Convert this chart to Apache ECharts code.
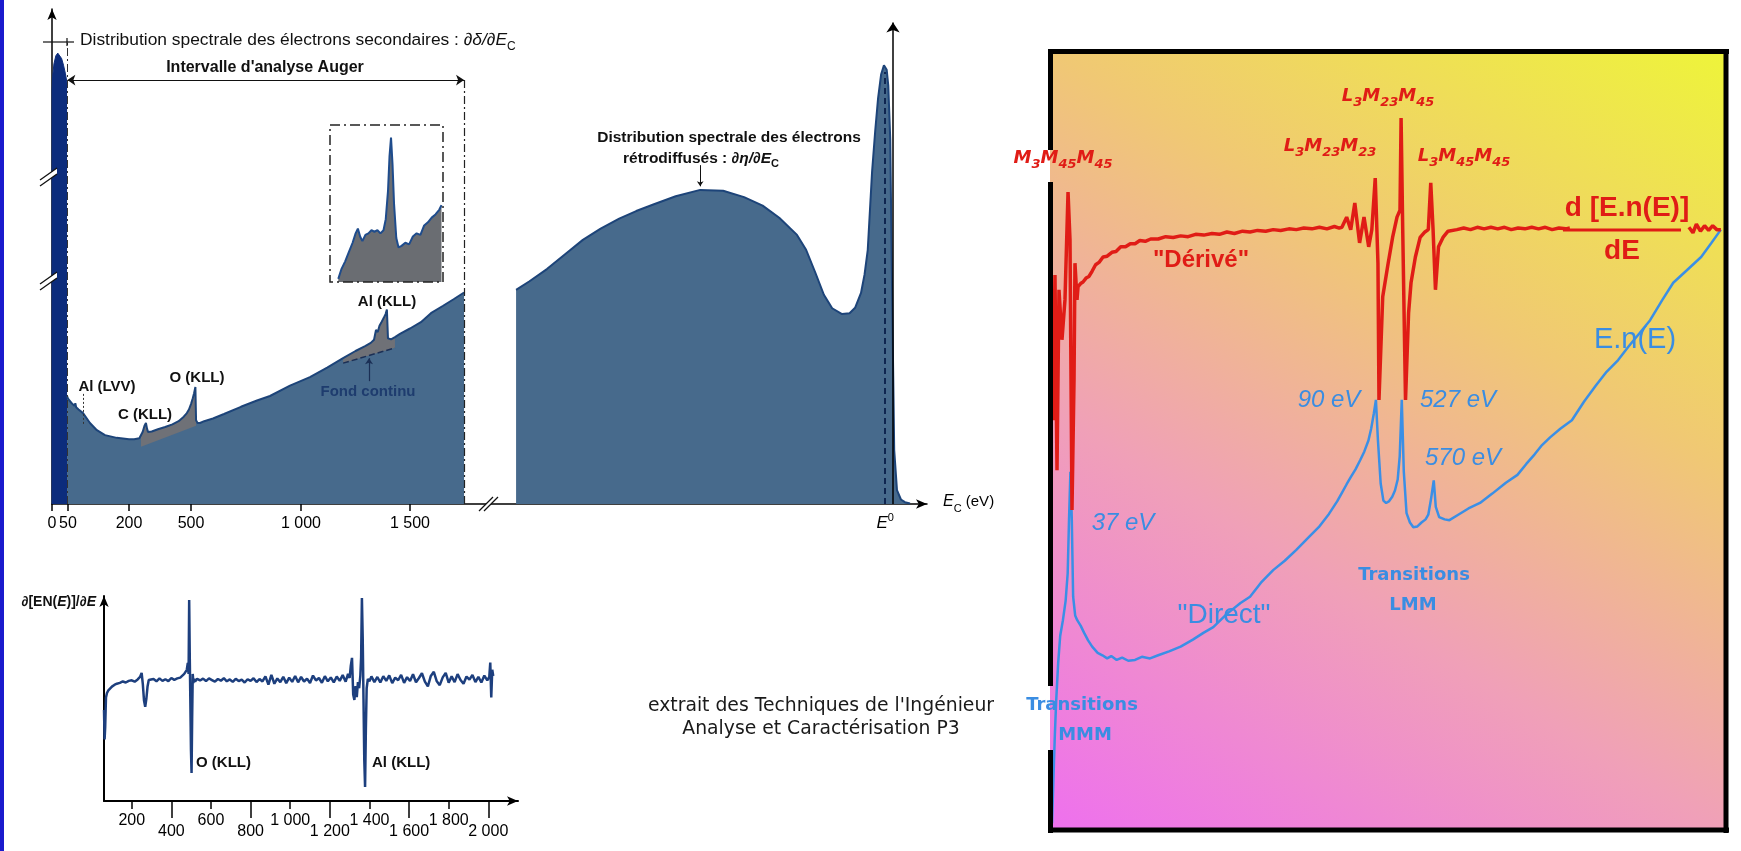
<!DOCTYPE html>
<html><head><meta charset="utf-8">
<script src="https://cdn.jsdelivr.net/npm/echarts@6/dist/echarts.min.js"></script>
<style>html,body{margin:0;padding:0;background:#fff}#c{width:1741px;height:851px}</style>
</head><body><div id="c"></div>
<script>
// ---------------- DATA ----------------
// Top-left panel: schematic (non-linear) energy axis of the figure
const TL_TICK_EV    = [0, 50, 200, 500, 1000, 1500];
const TL_TICK_LABEL = ['0', '50', '200', '500', '1 000', '1 500'];
const TL_TICK_AT    = [0, 16, 77, 139, 249, 358];   // relative spacing of those ticks along the drawn axis

// secondary electron peak [eV, intensity]
const SEC = [[0,0],[0.2,92],[2,95],[6,97.8],[12,99.6],[18,100.2],[24,100.1],[30,99],[36,97.5],[42,95.6],[47,93.5]];
// Auger range spectrum [eV, intensity]
const TL_E = [47,50,58,66,68,70,76,87,104,121,141,170,200,225,250,258,266,275,282,287,292,297,310,340,375,410,440,465,480,490,500,508,514,520,523,530,541,560,600,650,727,800,859,950,1041,1120,1193,1250,1294,1320,1335,1344,1352,1360,1367,1374,1382,1388,1394,1399,1406,1413,1431,1454,1500,1550,1596,1650,1700,1748];
const TL_I = [24.0,23.4,22.5,21.8,22.4,21.5,21.0,20.2,18.0,16.4,15.3,14.7,14.4,14.4,14.6,14.8,16.0,17.4,18.0,16.8,16.0,15.9,16.1,16.6,17.1,17.7,18.4,19.4,20.2,21.0,22.2,23.5,24.6,26.0,18.6,18.0,18.0,18.4,19.0,20.0,21.6,23.0,24.0,26.3,28.2,30.3,32.4,34.0,35.1,35.8,36.5,38.7,38.2,39.6,40.2,40.5,41.6,42.2,43.2,36.8,36.5,36.6,37.1,37.8,39.0,40.4,42.4,44.0,45.5,47.0];
// continuous background under the C/O and Al Auger peaks [eV, intensity]
const CO_BASE = [[258,12.7],[523,17.4]];
const AL_BASE = [[1193,31.3],[1431,34.7]];
// magnified Al (KLL) inset [eV, intensity]
const INSET = [[1321,2],[1325,8],[1330,13],[1335,19],[1340,25],[1344,31],[1347,34],[1350,29],[1353,26],[1357,30],[1361,31],[1365,33],[1369,32],[1373,33],[1377,31],[1381,33],[1384,40],[1387,58],[1389,80],[1391,92],[1393,75],[1395,50],[1398,28],[1401,22],[1405,23],[1410,25],[1415,24],[1420,29],[1425,31],[1430,30],[1435,36],[1440,38],[1445,41],[1450,43],[1455,46],[1458,49]];
// backscattered electrons [E/E0, intensity]
const BS = [[0.066,47.6],[0.10,49.5],[0.144,52.2],[0.19,55.5],[0.235,58.7],[0.28,61.2],[0.327,63.4],[0.37,65.1],[0.415,66.6],[0.47,68.4],[0.532,69.8],[0.59,69.6],[0.643,68.2],[0.69,66.3],[0.732,63.6],[0.777,59.8],[0.80,56.5],[0.823,51.5],[0.845,46.5],[0.866,43.5],[0.891,42.2],[0.91,42.4],[0.924,43.6],[0.939,46.9],[0.948,51.0],[0.956,56.4],[0.967,73.8],[0.975,83.0],[0.982,90.0],[0.99,95.5],[0.997,97.5],[1.004,96.5],[1.008,93.0],[1.013,81.0],[1.018,45.0],[1.023,12.0],[1.030,3.1],[1.040,1.0],[1.050,0.4],[1.063,0.1]];
// derivative spectrum (bottom-left) [eV, dEN/dE]
const DER = [[60,44.4],[63,30],[66,36],[70,50.5],[75,52.7],[82,54],[90,54.5],[100,55.8],[112,56.6],[125,57.2],[140,57.6],[155,58.3],[170,57.8],[185,58.6],[200,58.9],[215,58.2],[230,59.3],[242,60.5],[250,62.5],[256,57],[262,49],[268,46],[274,50],[280,56],[286,59],[295,58.2],[310,59.5],[325,58.4],[340,59.8],[355,58.6],[370,59.4],[385,58.5],[400,60.0],[415,59.1],[430,59.8],[445,60.2],[455,61],[465,62],[472,61.3],[478,64],[483,67.3],[487,62],[490,98],[493,70],[496,48],[499,25],[502,13.7],[505,40],[508,62],[511,57.5],[515,59.5],[520,58.3],[530,59.6],[545,58.8],[560,59.7],[575,58.5],[590,59.8],[605,59.0],[620,58.2],[635,59.5],[650,58.7],[665,59.9],[680,58.4],[695,59.3],[710,58.1],[725,59.6],[740,58.5],[755,59.2],[770,57.8],[785,59.4],[800,58.6],[815,59.9],[830,58.0],[845,59.5],[860,58.3],[875,60.8],[890,56.8],[905,61.5],[920,57.2],[935,59.8],[950,58.0],[965,60.6],[980,57.5],[995,60.2],[1010,58.1],[1025,61.0],[1040,57.9],[1055,60.5],[1070,58.3],[1085,59.7],[1100,57.6],[1115,61.2],[1130,58.8],[1145,60.0],[1160,57.7],[1175,60.9],[1190,58.4],[1205,60.3],[1220,57.9],[1235,60.7],[1250,58.6],[1265,61.4],[1280,58.2],[1292,62],[1300,60],[1306,66],[1312,69.8],[1318,52],[1324,49.3],[1330,56],[1336,50.7],[1342,58],[1348,55],[1354,61],[1358,70],[1362,99],[1366,80],[1370,50],[1374,20],[1378,6.8],[1382,35],[1386,55],[1392,59.6],[1400,58.4],[1410,60.8],[1425,58.0],[1440,60.5],[1455,57.8],[1470,60.9],[1485,58.6],[1500,61.3],[1515,57.5],[1530,60.2],[1545,58.9],[1560,61.5],[1575,57.6],[1590,60.4],[1605,58.5],[1620,61.8],[1635,57.9],[1650,60.0],[1665,62.3],[1680,58.2],[1695,55.9],[1710,61.0],[1725,63.0],[1740,58.4],[1755,56.5],[1770,60.3],[1785,62.5],[1800,57.7],[1815,60.8],[1830,58.0],[1845,61.9],[1860,59.0],[1875,57.2],[1890,60.7],[1905,59.2],[1920,61.5],[1935,58.0],[1950,60.6],[1965,57.8],[1980,61.2],[1995,58.8],[2005,60.5],[2010,67.5],[2015,50.5],[2020,64],[2025,61]];
const BL_TICKS_UP   = [200, 600, 1000, 1400, 1800];
const BL_TICKS_DOWN = [400, 800, 1200, 1600, 2000];
// right panel: "Dérivé" d[E.n(E)]/dE (red) and "Direct" E.n(E) (blue) [eV, intensity]
const RED = [[11.5,68.0],[14.4,52.6],[17.3,71.2],[20.3,46.2],[23.2,69.3],[27.6,62.9],[32,68.0],[36.5,81.8],[39.4,75.7],[42.3,41.1],[45.3,57.7],[46.7,72.7],[49.7,68.0],[51.2,69.7],[55,70.1],[58.5,70.3],[63,70.8],[67.3,71.0],[72,71.7],[77,72.5],[82,72.8],[88,73.5],[94,73.6],[101,74.1],[107,74.2],[114,74.8],[121,74.8],[128,75.2],[135,75.2],[142,75.6],[150,75.5],[158,75.8],[169,75.8],[180,76.1],[191,76.0],[202,76.2],[213,76.1],[224,76.4],[236,76.3],[248,76.5],[259,76.4],[270,76.7],[281,76.5],[293,76.8],[304,76.7],[315,76.9],[327,76.8],[338,77.0],[349,76.9],[361,77.1],[372,77.0],[383,77.2],[395,77.1],[406,77.3],[417,77.1],[428,77.4],[435,77.2],[439,77.3],[446,78.6],[452,77.0],[458,80.4],[465,75.3],[471.5,78.6],[478.4,74.8],[483,77.0],[488,83.6],[492,72.7],[493.5,55.2],[499,68.4],[507,72.7],[513.5,76.0],[520,78.6],[524.4,79.5],[526,91.3],[528.4,77.0],[532.5,55.2],[537,66.3],[540.6,70.2],[547,73.5],[554,76.0],[561,76.7],[566,77.0],[569.6,83.0],[573,77.0],[576.5,69.3],[581,74.8],[587.6,76.0],[595,76.8],[608,77.0],[618,77.2],[628,77.0],[638,77.3],[648,77.1],[658,77.3],[668,77.1],[678,77.3],[688,77.0],[698,77.2],[708,77.1],[718,77.3],[728,77.1],[738,77.3],[748,77.0],[758,77.2],[768,77.1],[774,77.2],[776,'-'],[949,77.3],[955,76.6],[960,77.7],[966,76.8],[972,77.5],[978,76.9],[984,77.5],[990,77.0],[996,77.0]];
const BLUE = [[13,1.0],[15,6.5],[17,12.0],[19,16.5],[22,21.5],[25,25.0],[29,27.0],[33,29.5],[36,33.0],[38,40.0],[40,46.0],[42,40.0],[44,30.0],[47,27.6],[50,27.0],[55,26.3],[60,25.4],[66,24.4],[72,23.6],[80,22.8],[87,22.5],[94,22.1],[100,22.4],[108,21.9],[116,22.2],[125,21.8],[135,21.9],[145,22.3],[157,22.1],[169,22.5],[185,23.0],[202,23.6],[220,24.5],[236,25.4],[250,26.1],[270,27.8],[290,29.2],[304,30.0],[320,31.8],[338,33.4],[355,34.6],[372,36.0],[390,37.6],[405,38.9],[420,40.6],[432,42.2],[439,43.3],[446,44.4],[452,45.3],[459,46.3],[466,47.5],[472,48.6],[478,50.0],[482,51.5],[486,53.5],[489,55.2],[492,50.0],[496,44.5],[500,42.3],[504,42.0],[508,42.2],[513,42.8],[517,43.6],[521,45.0],[524,48.0],[527,55.2],[530,46.0],[534,40.7],[539,39.5],[544,38.9],[550,39.0],[556,39.5],[562,39.9],[566,40.5],[570,42.5],[574,44.9],[577,41.5],[582,40.2],[590,39.9],[597,39.8],[610,40.5],[625,41.3],[642,42.0],[660,43.2],[680,44.6],[697,45.6],[710,47.0],[722,48.2],[732,49.3],[745,50.4],[760,51.5],[777,52.6],[795,55.0],[812,57.0],[828,58.8],[845,60.3],[860,62.0],[877,63.8],[892,65.4],[910,68.0],[926,70.2],[946,71.8],[967,73.5],[982,75.3],[996,77.0]];

// ---------------- HELPERS ----------------
function tlScale(e) {
  const n = TL_TICK_EV.length;
  for (let k = 0; k < n - 1; k++) {
    if (e <= TL_TICK_EV[k + 1]) {
      const t = (e - TL_TICK_EV[k]) / (TL_TICK_EV[k + 1] - TL_TICK_EV[k]);
      return TL_TICK_AT[k] + t * (TL_TICK_AT[k + 1] - TL_TICK_AT[k]);
    }
  }
  const k = n - 2;
  return TL_TICK_AT[n - 1] + (e - TL_TICK_EV[n - 1]) * (TL_TICK_AT[n - 1] - TL_TICK_AT[k]) / (TL_TICK_EV[n - 1] - TL_TICK_EV[k]);
}
const tl = pts => pts.map(p => [tlScale(p[0]), p[1]]);
const TL = TL_E.map((e, i) => [e, TL_I[i]]);
const nearest = (arr, v) => { let b = 0; arr.forEach((a, i) => { if (Math.abs(a - v) < Math.abs(arr[b] - v)) b = i; }); return b; };
const thousands = v => v >= 1000 ? Math.floor(v / 1000) + ' ' + String(v % 1000).padStart(3, '0') : String(v);

const FF = 'Liberation Sans, Arial, Helvetica, sans-serif';
const DJ = 'DejaVu Sans, Verdana, sans-serif';
const C_FILL = '#476a8c', C_LINE = '#1d4479', C_NAVY = '#0c2c7c', C_GRAY = '#6f7177';
const RED_C = '#e01c16', BLUE_C = '#3a8fe6', BLUE_T = '#3a8de2';

function polygonSeries(xi, yi, pts, color, z) {
  return { type: 'custom', xAxisIndex: xi, yAxisIndex: yi, z, silent: true, clip: false, animation: false,
    data: pts,
    renderItem: (params, api) => params.dataIndex === 0 ? {
      type: 'polygon', shape: { points: pts.map(p => api.coord(p)) }, style: { fill: color } } : null };
}
const coPoly = tl(TL.filter(p => p[0] >= CO_BASE[0][0] && p[0] <= CO_BASE[1][0]).concat([CO_BASE[1], CO_BASE[0]]));
const alPoly = tl(TL.filter(p => p[0] >= AL_BASE[0][0] && p[0] <= AL_BASE[1][0]).concat([AL_BASE[1], AL_BASE[0]]));

function T(x, y, text, o = {}) {
  const al = o.align || 'center';
  const st = { text, fill: o.color || '#111', fontSize: o.size || 15, fontWeight: o.weight || 'normal',
    fontStyle: o.style || 'normal', fontFamily: o.family || FF,
    align: al, verticalAlign: 'middle', textAlign: al, textVerticalAlign: 'middle' };
  if (o.rich) st.rich = o.rich;
  return { type: 'text', x, y, z: 30, silent: true, style: st };
}
function tok(size, color, extra) { return Object.assign({ fontSize: size, fill: color, color, fontFamily: FF }, extra || {}); }
const subRich = (size, color, fam, weight, style) => ({
  n: tok(size, color, { fontFamily: fam, fontWeight: weight, fontStyle: style, lineHeight: size + 4, verticalAlign: 'top' }),
  i: tok(size, color, { fontFamily: fam, fontWeight: weight, fontStyle: 'italic', lineHeight: size + 4, verticalAlign: 'top' }),
  s: tok(Math.round(size * 0.7), color, { fontFamily: fam, fontWeight: weight, fontStyle: style, lineHeight: Math.round(size * 0.7), verticalAlign: 'bottom' })
});
const redRich = subRich(18, RED_C, DJ, 'bold', 'italic');

function brk(x1, y1, x2, y2, ox, oy) {
  return [
    { type: 'polygon', z: 25, silent: true, shape: { points: [[x1, y1], [x2, y2], [x2 + ox, y2 + oy], [x1 + ox, y1 + oy]] }, style: { fill: '#fff' } },
    { type: 'line', z: 26, silent: true, shape: { x1, y1, x2, y2 }, style: { stroke: '#111', lineWidth: 1.3 } },
    { type: 'line', z: 26, silent: true, shape: { x1: x1 + ox, y1: y1 + oy, x2: x2 + ox, y2: y2 + oy }, style: { stroke: '#111', lineWidth: 1.3 } }
  ];
}

const RP = { x: 1050, y: 52, w: 676, h: 778 };
const graphics = [
  { type: 'rect', z: 40, silent: true, shape: { x: 0, y: 0, width: 4, height: 851 }, style: { fill: '#1a1acd' } },
  { type: 'rect', z: 0, silent: true, shape: { x: RP.x, y: RP.y, width: RP.w, height: RP.h },
    style: { fill: new echarts.graphic.LinearGradient(0, 1, 0.796, -0.11, [
      { offset: 0, color: '#ee70ee' }, { offset: 0.35, color: '#f0a0b8' }, { offset: 0.5, color: '#f0b496' },
      { offset: 0.65, color: '#f0c874' }, { offset: 1, color: '#eef43a' }]) } },
  { type: 'line', z: 20, silent: true, shape: { x1: 1048, y1: 51.5, x2: 1729, y2: 51.5 }, style: { stroke: '#000', lineWidth: 5 } },
  { type: 'line', z: 20, silent: true, shape: { x1: 1726, y1: 49, x2: 1726, y2: 833 }, style: { stroke: '#000', lineWidth: 5 } },
  { type: 'line', z: 20, silent: true, shape: { x1: 1048, y1: 830, x2: 1729, y2: 830 }, style: { stroke: '#000', lineWidth: 5 } },
  { type: 'line', z: 20, silent: true, shape: { x1: 1050.5, y1: 49, x2: 1050.5, y2: 150 }, style: { stroke: '#000', lineWidth: 5 } },
  { type: 'line', z: 20, silent: true, shape: { x1: 1050.5, y1: 182, x2: 1050.5, y2: 686 }, style: { stroke: '#000', lineWidth: 5 } },
  { type: 'line', z: 20, silent: true, shape: { x1: 1050.5, y1: 750, x2: 1050.5, y2: 833 }, style: { stroke: '#000', lineWidth: 5 } },
  // inset frame
  { type: 'rect', z: 20, silent: true, shape: { x: 330, y: 125, width: 113, height: 157 }, style: { fill: 'none', stroke: '#222', lineWidth: 1.5, lineDash: [10, 4, 2, 4] } },
  // pointer of the first title
  { type: 'line', z: 20, silent: true, shape: { x1: 43, y1: 42, x2: 74, y2: 42 }, style: { stroke: '#111', lineWidth: 1.2 } },
  { type: 'line', z: 20, silent: true, shape: { x1: 67, y1: 38, x2: 67, y2: 46 }, style: { stroke: '#111', lineWidth: 1.2 } },
  ...brk(40, 180, 57, 168, 0, 6), ...brk(40, 284, 57, 272, 0, 6), ...brk(479, 511, 493, 497, 5, 0),
  // texts top-left
  T(80, 42, '{n|Distribution spectrale des électrons secondaires : }{i|∂δ/∂E}{s|C}', { align: 'left', rich: subRich(17.4, '#111', FF, 'normal', 'normal') }),
  T(265, 68, "Intervalle d'analyse Auger", { size: 16, weight: 'bold' }),
  T(107, 387, 'Al (LVV)', { weight: 'bold' }),
  T(145, 415, 'C (KLL)', { weight: 'bold' }),
  T(197, 378, 'O (KLL)', { weight: 'bold' }),
  T(387, 302, 'Al (KLL)', { weight: 'bold' }),
  T(368, 392, 'Fond continu', { weight: 'bold', color: '#1e3c6e' }),
  T(729, 138, 'Distribution spectrale des électrons', { weight: 'bold', size: 15.5 }),
  T(701, 160, '{n|rétrodiffusés : }{i|∂η/∂E}{s|C}', { rich: subRich(15.5, '#111', FF, 'bold', 'normal') }),
  // bottom-left
  T(196, 763, 'O (KLL)', { align: 'left', weight: 'bold' }),
  T(372, 763, 'Al (KLL)', { align: 'left', weight: 'bold' }),
  // middle
  T(821, 706, "extrait des Techniques de l'Ingénieur", { family: DJ, size: 18.8, color: '#1a1a1a' }),
  T(821, 729, 'Analyse et Caractérisation P3', { family: DJ, size: 18.8, color: '#1a1a1a' }),
  // right panel
  T(1063, 160, '{n|M}{s|3}{n|M}{s|45}{n|M}{s|45}', { rich: redRich }),
  T(1330, 148, '{n|L}{s|3}{n|M}{s|23}{n|M}{s|23}', { rich: redRich }),
  T(1388, 98, '{n|L}{s|3}{n|M}{s|23}{n|M}{s|45}', { rich: redRich }),
  T(1464, 158, '{n|L}{s|3}{n|M}{s|45}{n|M}{s|45}', { rich: redRich }),
  T(1201, 260, '"Dérivé"', { size: 24, weight: 'bold', color: RED_C }),
  T(1627, 208, 'd [E.n(E)]', { size: 28, weight: 'bold', color: RED_C }),
  { type: 'line', z: 30, silent: true, shape: { x1: 1563, y1: 230, x2: 1681, y2: 230 }, style: { stroke: RED_C, lineWidth: 3 } },
  T(1622, 251, 'dE', { size: 28, weight: 'bold', color: RED_C }),
  T(1635, 340, 'E.n(E)', { size: 29, color: BLUE_T }),
  T(1329, 400, '90 eV', { size: 24, style: 'italic', color: BLUE_T }),
  T(1458, 400, '527 eV', { size: 24, style: 'italic', color: BLUE_T }),
  T(1463, 458, '570 eV', { size: 24, style: 'italic', color: BLUE_T }),
  T(1123, 523, '37 eV', { size: 24, style: 'italic', color: BLUE_T }),
  T(1224, 615, '"Direct"', { size: 28, color: BLUE_T }),
  T(1414, 575, 'Transitions', { size: 18, weight: 'bold', family: DJ, color: BLUE_T }),
  T(1413, 605, 'LMM', { size: 18, weight: 'bold', family: DJ, color: BLUE_T }),
  T(1082, 705, 'Transitions', { size: 18, weight: 'bold', family: DJ, color: BLUE_T }),
  T(1085, 735, 'MMM', { size: 18, weight: 'bold', family: DJ, color: BLUE_T })
];

const hiddenAxis = (gi, min, max) => ({ gridIndex: gi, type: 'value', min, max, show: false });
const axisBlack = { color: '#000', width: 1.5 };

const option = {
  animation: false,
  backgroundColor: '#fff',
  textStyle: { fontFamily: FF },
  grid: [
    { left: 52, top: 9, width: 438, height: 495, outerBoundsMode: 'none', containLabel: false },
    { left: 490, top: 9, width: 437, height: 495, outerBoundsMode: 'none', containLabel: false },
    { left: 330, top: 125, width: 113, height: 157, outerBoundsMode: 'none', containLabel: false },
    { left: 104, top: 596, width: 414, height: 205, outerBoundsMode: 'none', containLabel: false },
    { left: 1050, top: 50, width: 677, height: 781, outerBoundsMode: 'none', containLabel: false }
  ],
  xAxis: [
    { gridIndex: 0, type: 'value', position: 'bottom', min: 0, max: 438, splitLine: { show: false },
      axisLine: { show: true, onZero: false, lineStyle: axisBlack },
      axisTick: { show: true, customValues: TL_TICK_AT, length: 7, lineStyle: axisBlack },
      axisLabel: { show: true, customValues: TL_TICK_AT, margin: 12, fontSize: 16, color: '#000',
        formatter: v => TL_TICK_LABEL[nearest(TL_TICK_AT, v)] } },
    { gridIndex: 1, type: 'value', position: 'bottom', min: 0, max: 1.106, splitLine: { show: false },
      axisLine: { show: true, onZero: false, lineStyle: axisBlack, symbol: ['none', 'arrow'], symbolSize: [7, 11] },
      axisTick: { show: false },
      axisLabel: { show: true, customValues: [1], margin: 8, formatter: () => '{e|E}{s|0}',
        rich: { e: { fontSize: 17, fontStyle: 'italic', color: '#000', lineHeight: 20, verticalAlign: 'bottom' },
                s: { fontSize: 11, color: '#000', lineHeight: 11, verticalAlign: 'top' } } },
      name: '{e|E}{s|C}{n| (eV)}', nameLocation: 'end', nameGap: 16, nameMoveOverlap: false,
      nameTextStyle: { align: 'left', verticalAlign: 'middle',
        rich: { e: { fontSize: 16, fontStyle: 'italic', color: '#000', lineHeight: 20, verticalAlign: 'top' },
                s: { fontSize: 11, color: '#000', lineHeight: 11, verticalAlign: 'bottom' },
                n: { fontSize: 15, color: '#000', lineHeight: 20, verticalAlign: 'top' } } } },
    hiddenAxis(2, 1310, 1460),
    { gridIndex: 3, type: 'value', position: 'bottom', offset: 0, min: 60, max: 2150, splitLine: { show: false },
      axisLine: { show: true, onZero: false, lineStyle: { color: '#000', width: 2 }, symbol: ['none', 'arrow'], symbolSize: [7, 11] },
      axisTick: { show: true, customValues: BL_TICKS_UP, length: 8, lineStyle: axisBlack },
      axisLabel: { show: true, customValues: BL_TICKS_UP, margin: 12, fontSize: 16, color: '#000', formatter: thousands } },
    { gridIndex: 3, type: 'value', position: 'bottom', offset: 0, min: 60, max: 2150, splitLine: { show: false },
      axisLine: { show: false, onZero: false },
      axisTick: { show: true, customValues: BL_TICKS_DOWN, length: 17, lineStyle: axisBlack },
      axisLabel: { show: true, customValues: BL_TICKS_DOWN, margin: 23, fontSize: 16, color: '#000', formatter: thousands } },
    hiddenAxis(4, 10, 1005)
  ],
  yAxis: [
    { gridIndex: 0, type: 'value', min: 0, max: 110, splitLine: { show: false }, axisTick: { show: false }, axisLabel: { show: false },
      axisLine: { show: true, onZero: false, lineStyle: axisBlack, symbol: ['none', 'arrow'], symbolSize: [7, 11] } },
    hiddenAxis(1, 0, 110),
    hiddenAxis(2, 0, 100),
    { gridIndex: 3, type: 'value', min: 0, max: 100, splitLine: { show: false }, axisTick: { show: false }, axisLabel: { show: false },
      axisLine: { show: true, onZero: false, lineStyle: { color: '#000', width: 2 }, symbol: ['none', 'arrow'], symbolSize: [7, 11] },
      name: '{a|∂[EN(}{i|E}{a|)]/∂}{i|E}', nameLocation: 'end', nameGap: -6, nameMoveOverlap: false,
      nameTextStyle: { align: 'right', verticalAlign: 'middle', padding: [0, 8, 0, 0],
        rich: { a: { fontSize: 14, fontWeight: 'bold', color: '#111' }, i: { fontSize: 14, fontWeight: 'bold', fontStyle: 'italic', color: '#111' } } } },
    hiddenAxis(4, 0, 100)
  ],
  series: [
    { type: 'line', xAxisIndex: 0, yAxisIndex: 0, data: tl(SEC), symbol: 'none', z: 2, clip: false,
      lineStyle: { color: C_NAVY, width: 1 }, areaStyle: { color: C_NAVY, opacity: 1 } },
    { type: 'line', xAxisIndex: 0, yAxisIndex: 0, data: tl(TL), symbol: 'none', z: 2, clip: false,
      lineStyle: { width: 0 }, areaStyle: { color: C_FILL, opacity: 1 } },
    polygonSeries(0, 0, coPoly, C_GRAY, 3),
    polygonSeries(0, 0, alPoly, C_GRAY, 3),
    { type: 'line', xAxisIndex: 0, yAxisIndex: 0, data: tl(TL), symbol: 'none', z: 4, clip: false,
      lineStyle: { color: C_LINE, width: 2 },
      markLine: { silent: true, symbol: ['none', 'none'], label: { show: false }, animation: false,
        lineStyle: { color: '#111', width: 1.2, type: 'solid' },
        data: [
          [{ coord: [tlScale(48), 94.2], symbol: 'arrow', symbolSize: 8 }, { coord: [tlScale(1748), 94.2], symbol: 'arrow', symbolSize: 8 }],
          [{ coord: [tlScale(1748), 0], lineStyle: { type: [8, 3, 2, 3], color: '#222', width: 1.2 } }, { coord: [tlScale(1748), 94.2], lineStyle: { type: [8, 3, 2, 3], color: '#222', width: 1.2 } }],
          [{ coord: [tlScale(47), 0], lineStyle: { type: [8, 3, 2, 3], color: '#333', width: 1 } }, { coord: [tlScale(47), 103], lineStyle: { type: [8, 3, 2, 3], color: '#333', width: 1 } }],
          [{ coord: [tlScale(87), 17.8], lineStyle: { type: [2, 2], color: '#333', width: 1 } }, { coord: [tlScale(87), 24.5], lineStyle: { type: [2, 2], color: '#333', width: 1 } }]
        ] } },
    { type: 'line', xAxisIndex: 0, yAxisIndex: 0, data: tl(AL_BASE), symbol: 'none', z: 4, clip: false,
      lineStyle: { color: '#1b2f55', width: 1.5, type: 'dashed' },
      markLine: { silent: true, symbol: ['none', 'arrow'], symbolSize: 6, label: { show: false }, animation: false,
        lineStyle: { color: '#1b2f55', width: 1.2, type: 'solid' },
        data: [[{ coord: [tlScale(1312), 27.3] }, { coord: [tlScale(1312), 32.4] }]] } },
    { type: 'line', xAxisIndex: 2, yAxisIndex: 2, data: INSET, symbol: 'none', z: 4,
      lineStyle: { color: '#1f4c8c', width: 2 }, areaStyle: { color: '#6a6d72', opacity: 1 } },
    { type: 'line', xAxisIndex: 1, yAxisIndex: 1, data: BS, symbol: 'none', z: 3, clip: false,
      lineStyle: { color: C_LINE, width: 2 }, areaStyle: { color: C_FILL, opacity: 1 },
      markLine: { silent: true, symbol: ['none', 'none'], label: { show: false }, animation: false,
        data: [
          [{ coord: [1, 0], lineStyle: { type: [6, 4], color: '#0f2550', width: 2 } }, { coord: [1, 96], lineStyle: { type: [6, 4], color: '#0f2550', width: 2 } }],
          [{ coord: [1.02, 0], lineStyle: { type: 'solid', color: '#000', width: 1.5 } }, { coord: [1.02, 107], symbol: 'arrow', symbolSize: 10, lineStyle: { type: 'solid', color: '#000', width: 1.5 } }],
          [{ coord: [0.532, 75.3], lineStyle: { type: 'solid', color: '#111', width: 1 } }, { coord: [0.532, 70.6], symbol: 'arrow', symbolSize: 5, lineStyle: { type: 'solid', color: '#111', width: 1 } }]
        ] } },
    { type: 'line', xAxisIndex: 3, yAxisIndex: 3, data: DER, symbol: 'none', z: 4,
      lineStyle: { color: '#1d3f7e', width: 2.5 } },
    { type: 'line', xAxisIndex: 5, yAxisIndex: 4, data: BLUE, symbol: 'none', z: 4,
      lineStyle: { color: BLUE_C, width: 2.5 } },
    { type: 'line', xAxisIndex: 5, yAxisIndex: 4, data: RED, symbol: 'none', z: 5, connectNulls: false,
      lineStyle: { color: RED_C, width: 3.5 } }
  ],
  graphic: { elements: graphics }
};

const chart = echarts.init(document.getElementById('c'), null, { renderer: 'canvas', width: 1741, height: 851 });
chart.setOption(option);
</script></body></html>
